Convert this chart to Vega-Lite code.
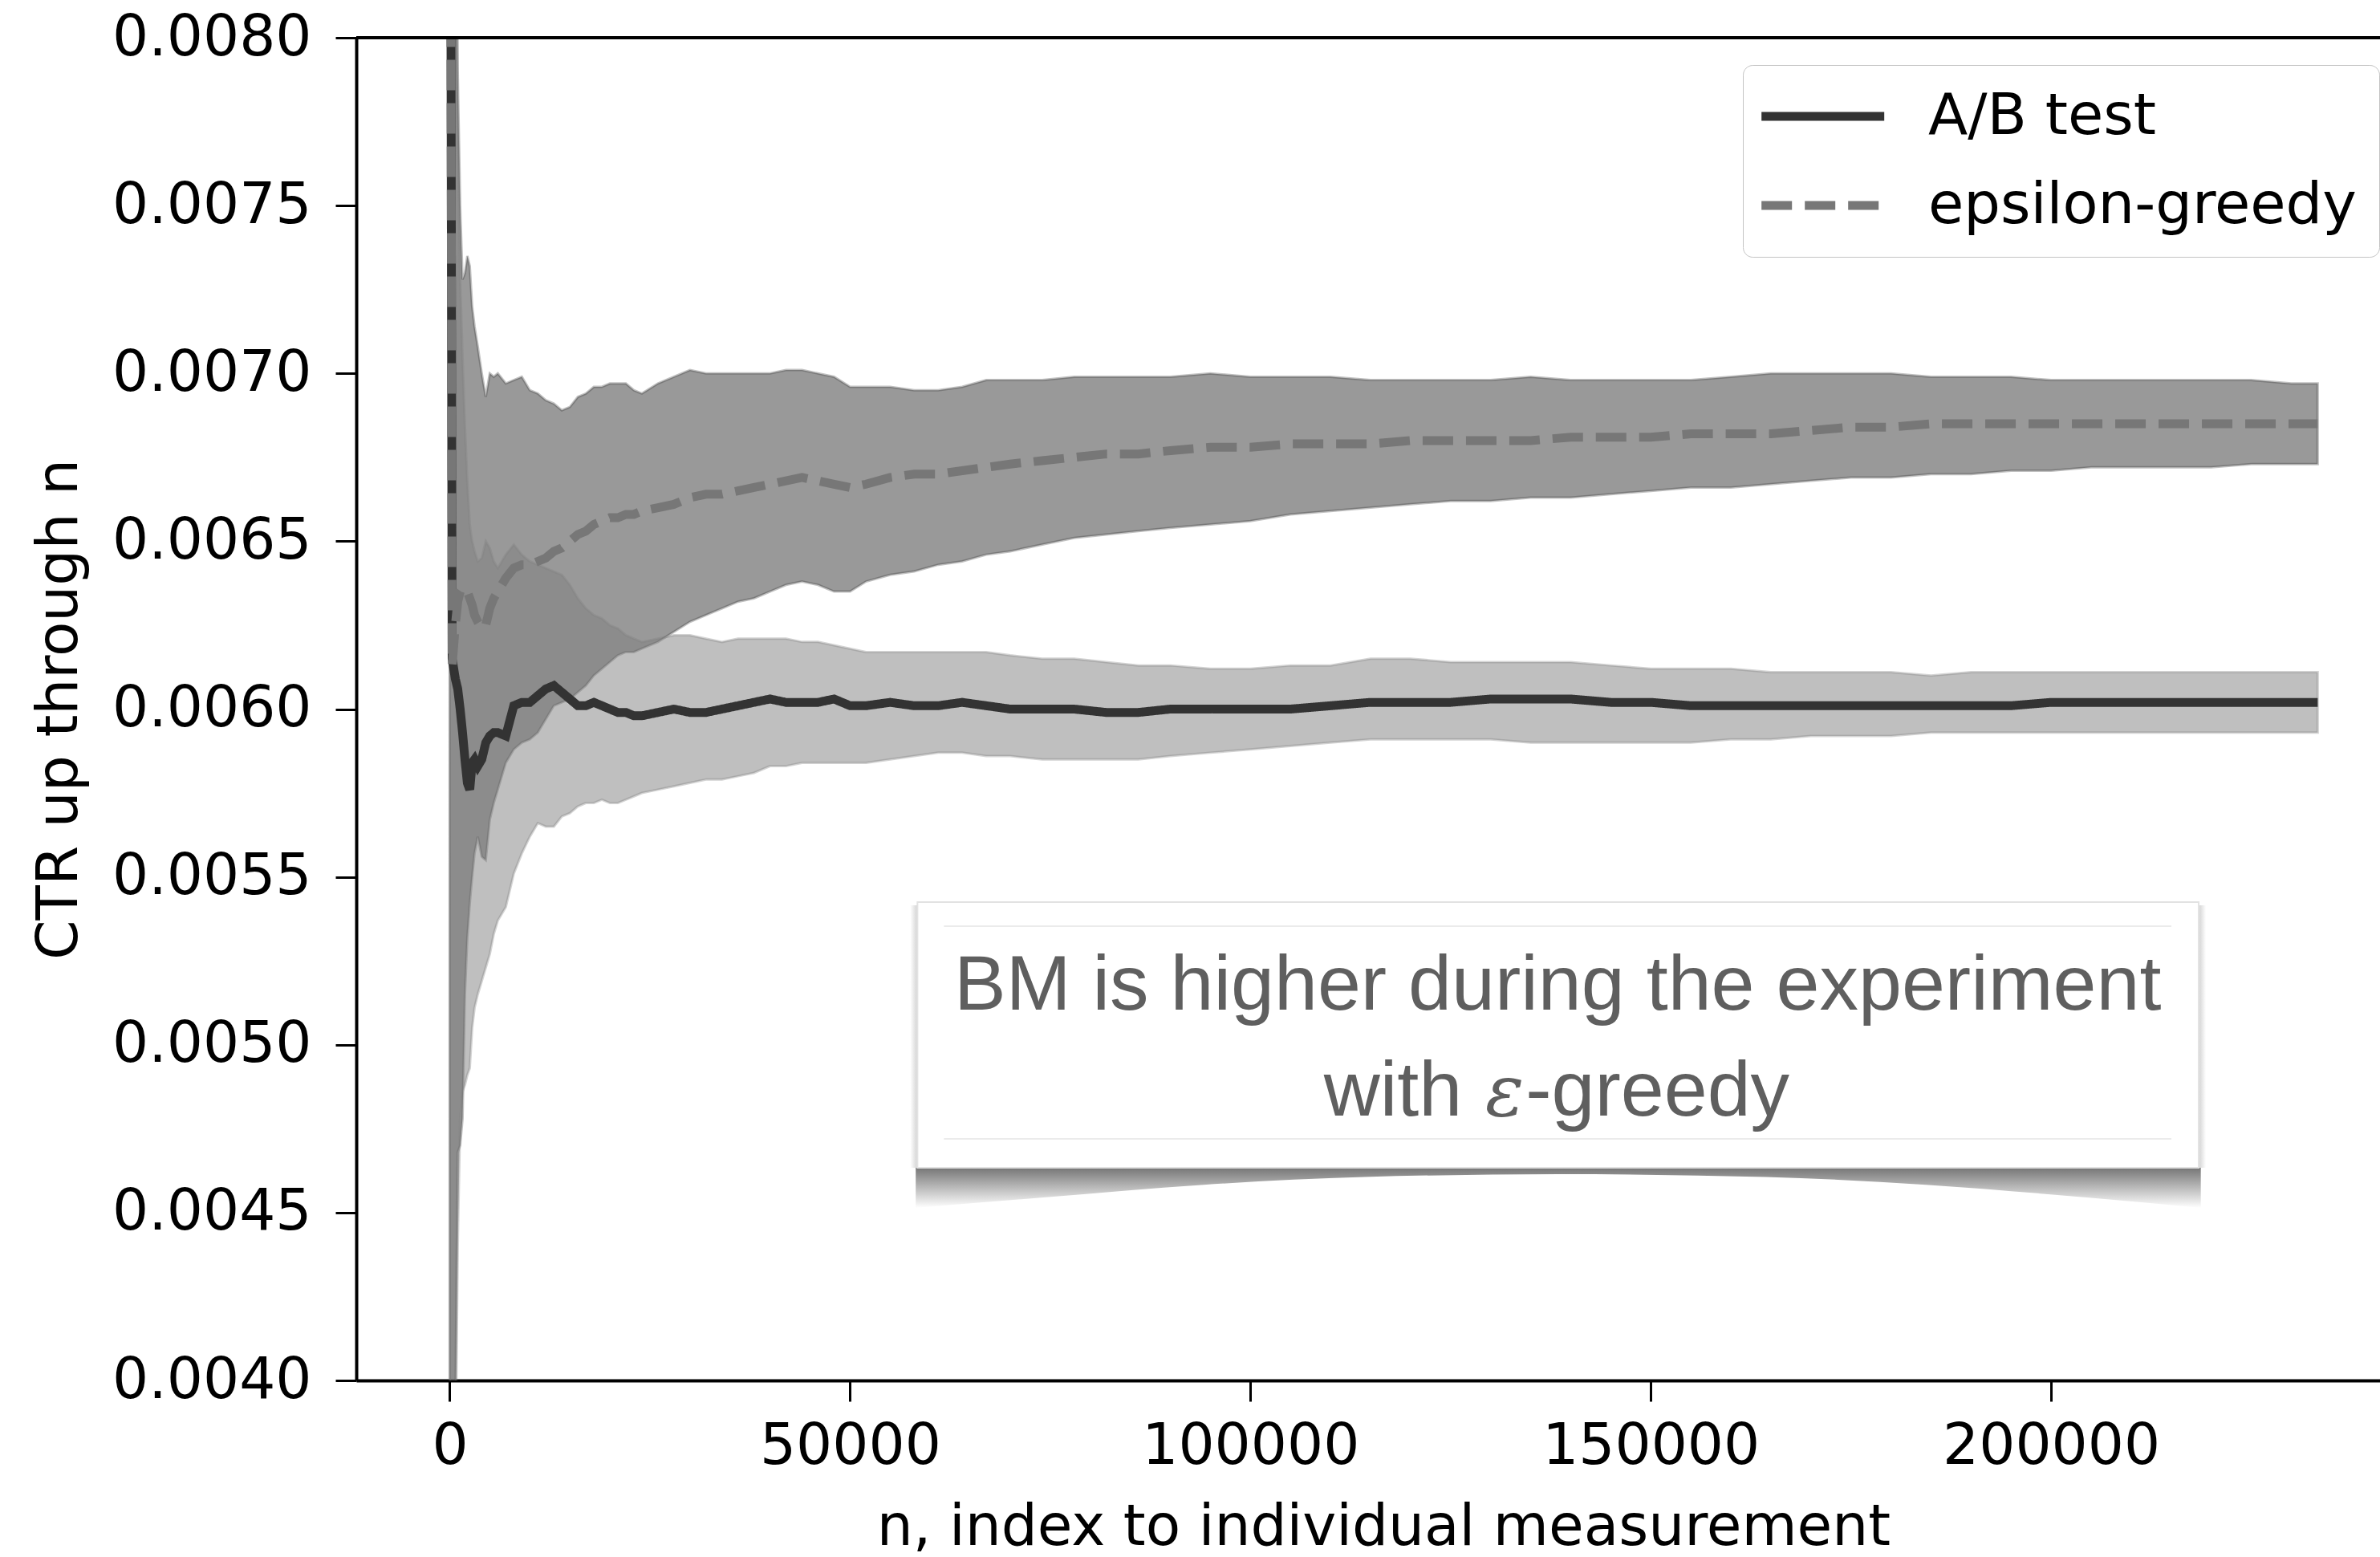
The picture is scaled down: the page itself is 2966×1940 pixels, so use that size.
{
"$schema": "https://vega.github.io/schema/vega-lite/v6.json",
"width": 2522, "height": 1673,
"autosize": {"type": "none"},
"padding": {"left": 444, "top": 47, "right": 0, "bottom": 220},
"background": "white",
"config": {
  "view": {"stroke": null},
  "axis": {"labelFont": "DejaVu Sans", "labelFontSize": 71, "labelColor": "black", "labelLimit": 0, "titleFont": "DejaVu Sans", "titleFontSize": 71, "titleColor": "black", "titleFontWeight": "normal", "titleLimit": 0, "domainColor": "black", "domainWidth": 4, "tickColor": "black", "tickWidth": 3, "tickSize": 26, "grid": false}
},
"datasets": {
"ctr": [
{"n":0,"eg_hi":0.0130,"eg_mean":0.0100,"eg_lo":0.0030,"ab_hi":0.0130,"ab_mean":0.0100,"ab_lo":0.0030},
{"n":300,"eg_hi":0.0110,"eg_mean":0.00613,"eg_lo":0.0034,"ab_hi":0.0105,"ab_mean":0.00615,"ab_lo":0.0033},
{"n":700,"eg_hi":0.0088,"eg_mean":0.00625,"eg_lo":0.0039,"ab_hi":0.0086,"ab_mean":0.00609,"ab_lo":0.0037},
{"n":1000,"eg_hi":0.0079,"eg_mean":0.00632,"eg_lo":0.00468,"ab_hi":0.0078,"ab_mean":0.00606,"ab_lo":0.0044},
{"n":1300,"eg_hi":0.0075,"eg_mean":0.00635,"eg_lo":0.00470,"ab_hi":0.00728,"ab_mean":0.00600,"ab_lo":0.00478},
{"n":1600,"eg_hi":0.00728,"eg_mean":0.00636,"eg_lo":0.00478,"ab_hi":0.00705,"ab_mean":0.00593,"ab_lo":0.00486},
{"n":1900,"eg_hi":0.00730,"eg_mean":0.00636,"eg_lo":0.00515,"ab_hi":0.00684,"ab_mean":0.00585,"ab_lo":0.00488},
{"n":2200,"eg_hi":0.00735,"eg_mean":0.00635,"eg_lo":0.00532,"ab_hi":0.00668,"ab_mean":0.00578,"ab_lo":0.00491},
{"n":2500,"eg_hi":0.00732,"eg_mean":0.00633,"eg_lo":0.00542,"ab_hi":0.00655,"ab_mean":0.00576,"ab_lo":0.00493},
{"n":2800,"eg_hi":0.00720,"eg_mean":0.00631,"eg_lo":0.00550,"ab_hi":0.00650,"ab_mean":0.00584,"ab_lo":0.00505},
{"n":3100,"eg_hi":0.00714,"eg_mean":0.00628,"eg_lo":0.00557,"ab_hi":0.00647,"ab_mean":0.00585,"ab_lo":0.00511},
{"n":3500,"eg_hi":0.00708,"eg_mean":0.00626,"eg_lo":0.00562,"ab_hi":0.00644,"ab_mean":0.00583,"ab_lo":0.00515},
{"n":4000,"eg_hi":0.00700,"eg_mean":0.00624,"eg_lo":0.00556,"ab_hi":0.00645,"ab_mean":0.00585,"ab_lo":0.00519},
{"n":4500,"eg_hi":0.00693,"eg_mean":0.00625,"eg_lo":0.00555,"ab_hi":0.00650,"ab_mean":0.00590,"ab_lo":0.00523},
{"n":5000,"eg_hi":0.00700,"eg_mean":0.00630,"eg_lo":0.00567,"ab_hi":0.00648,"ab_mean":0.00592,"ab_lo":0.00527},
{"n":5500,"eg_hi":0.00699,"eg_mean":0.00633,"eg_lo":0.00572,"ab_hi":0.00644,"ab_mean":0.00593,"ab_lo":0.00533},
{"n":6000,"eg_hi":0.00700,"eg_mean":0.00635,"eg_lo":0.00576,"ab_hi":0.00642,"ab_mean":0.00593,"ab_lo":0.00537},
{"n":7000,"eg_hi":0.00697,"eg_mean":0.00639,"eg_lo":0.00584,"ab_hi":0.00646,"ab_mean":0.00592,"ab_lo":0.00541},
{"n":8000,"eg_hi":0.00698,"eg_mean":0.00642,"eg_lo":0.00588,"ab_hi":0.00649,"ab_mean":0.00601,"ab_lo":0.00551},
{"n":9000,"eg_hi":0.00699,"eg_mean":0.00643,"eg_lo":0.00590,"ab_hi":0.00646,"ab_mean":0.00602,"ab_lo":0.00557},
{"n":10000,"eg_hi":0.00695,"eg_mean":0.00643,"eg_lo":0.00591,"ab_hi":0.00644,"ab_mean":0.00602,"ab_lo":0.00562},
{"n":11000,"eg_hi":0.00694,"eg_mean":0.00644,"eg_lo":0.00593,"ab_hi":0.00643,"ab_mean":0.00604,"ab_lo":0.00566},
{"n":12000,"eg_hi":0.00692,"eg_mean":0.00645,"eg_lo":0.00597,"ab_hi":0.00642,"ab_mean":0.00606,"ab_lo":0.00565},
{"n":13000,"eg_hi":0.00691,"eg_mean":0.00647,"eg_lo":0.00601,"ab_hi":0.00641,"ab_mean":0.00607,"ab_lo":0.00565},
{"n":14000,"eg_hi":0.00689,"eg_mean":0.00648,"eg_lo":0.00602,"ab_hi":0.00640,"ab_mean":0.00605,"ab_lo":0.00568},
{"n":15000,"eg_hi":0.00690,"eg_mean":0.00650,"eg_lo":0.00603,"ab_hi":0.00637,"ab_mean":0.00603,"ab_lo":0.00569},
{"n":16000,"eg_hi":0.00693,"eg_mean":0.00652,"eg_lo":0.00605,"ab_hi":0.00633,"ab_mean":0.00601,"ab_lo":0.00571},
{"n":17000,"eg_hi":0.00694,"eg_mean":0.00653,"eg_lo":0.00607,"ab_hi":0.00630,"ab_mean":0.00601,"ab_lo":0.00572},
{"n":18000,"eg_hi":0.00696,"eg_mean":0.00655,"eg_lo":0.00610,"ab_hi":0.00628,"ab_mean":0.00602,"ab_lo":0.00572},
{"n":19000,"eg_hi":0.00696,"eg_mean":0.00656,"eg_lo":0.00612,"ab_hi":0.00627,"ab_mean":0.00601,"ab_lo":0.00573},
{"n":20000,"eg_hi":0.00697,"eg_mean":0.00657,"eg_lo":0.00614,"ab_hi":0.00625,"ab_mean":0.00600,"ab_lo":0.00572},
{"n":21000,"eg_hi":0.00697,"eg_mean":0.00657,"eg_lo":0.00616,"ab_hi":0.00624,"ab_mean":0.00599,"ab_lo":0.00572},
{"n":22000,"eg_hi":0.00697,"eg_mean":0.00658,"eg_lo":0.00617,"ab_hi":0.00622,"ab_mean":0.00599,"ab_lo":0.00573},
{"n":23000,"eg_hi":0.00695,"eg_mean":0.00658,"eg_lo":0.00617,"ab_hi":0.00621,"ab_mean":0.00598,"ab_lo":0.00574},
{"n":24000,"eg_hi":0.00694,"eg_mean":0.00659,"eg_lo":0.00618,"ab_hi":0.00620,"ab_mean":0.00598,"ab_lo":0.00575},
{"n":26000,"eg_hi":0.00697,"eg_mean":0.00660,"eg_lo":0.00620,"ab_hi":0.00621,"ab_mean":0.00599,"ab_lo":0.00576},
{"n":28000,"eg_hi":0.00699,"eg_mean":0.00661,"eg_lo":0.00623,"ab_hi":0.00622,"ab_mean":0.00600,"ab_lo":0.00577},
{"n":30000,"eg_hi":0.00701,"eg_mean":0.00663,"eg_lo":0.00626,"ab_hi":0.00622,"ab_mean":0.00599,"ab_lo":0.00578},
{"n":32000,"eg_hi":0.00700,"eg_mean":0.00664,"eg_lo":0.00628,"ab_hi":0.00621,"ab_mean":0.00599,"ab_lo":0.00579},
{"n":34000,"eg_hi":0.00700,"eg_mean":0.00664,"eg_lo":0.00630,"ab_hi":0.00620,"ab_mean":0.00600,"ab_lo":0.00579},
{"n":36000,"eg_hi":0.00700,"eg_mean":0.00665,"eg_lo":0.00632,"ab_hi":0.00621,"ab_mean":0.00601,"ab_lo":0.00580},
{"n":38000,"eg_hi":0.00700,"eg_mean":0.00666,"eg_lo":0.00633,"ab_hi":0.00621,"ab_mean":0.00602,"ab_lo":0.00581},
{"n":40000,"eg_hi":0.00700,"eg_mean":0.00667,"eg_lo":0.00635,"ab_hi":0.00621,"ab_mean":0.00603,"ab_lo":0.00583},
{"n":42000,"eg_hi":0.00701,"eg_mean":0.00668,"eg_lo":0.00637,"ab_hi":0.00621,"ab_mean":0.00602,"ab_lo":0.00583},
{"n":44000,"eg_hi":0.00701,"eg_mean":0.00669,"eg_lo":0.00638,"ab_hi":0.00620,"ab_mean":0.00602,"ab_lo":0.00584},
{"n":46000,"eg_hi":0.00700,"eg_mean":0.00668,"eg_lo":0.00637,"ab_hi":0.00620,"ab_mean":0.00602,"ab_lo":0.00584},
{"n":48000,"eg_hi":0.00699,"eg_mean":0.00667,"eg_lo":0.00635,"ab_hi":0.00619,"ab_mean":0.00603,"ab_lo":0.00584},
{"n":50000,"eg_hi":0.00696,"eg_mean":0.00666,"eg_lo":0.00635,"ab_hi":0.00618,"ab_mean":0.00601,"ab_lo":0.00584},
{"n":52000,"eg_hi":0.00696,"eg_mean":0.00667,"eg_lo":0.00638,"ab_hi":0.00617,"ab_mean":0.00601,"ab_lo":0.00584},
{"n":55000,"eg_hi":0.00696,"eg_mean":0.00669,"eg_lo":0.00640,"ab_hi":0.00617,"ab_mean":0.00602,"ab_lo":0.00585},
{"n":58000,"eg_hi":0.00695,"eg_mean":0.00670,"eg_lo":0.00641,"ab_hi":0.00617,"ab_mean":0.00601,"ab_lo":0.00586},
{"n":61000,"eg_hi":0.00695,"eg_mean":0.00670,"eg_lo":0.00643,"ab_hi":0.00617,"ab_mean":0.00601,"ab_lo":0.00587},
{"n":64000,"eg_hi":0.00696,"eg_mean":0.00671,"eg_lo":0.00644,"ab_hi":0.00617,"ab_mean":0.00602,"ab_lo":0.00587},
{"n":67000,"eg_hi":0.00698,"eg_mean":0.00672,"eg_lo":0.00646,"ab_hi":0.00617,"ab_mean":0.00601,"ab_lo":0.00586},
{"n":70000,"eg_hi":0.00698,"eg_mean":0.00673,"eg_lo":0.00647,"ab_hi":0.00616,"ab_mean":0.00600,"ab_lo":0.00586},
{"n":74000,"eg_hi":0.00698,"eg_mean":0.00674,"eg_lo":0.00649,"ab_hi":0.00615,"ab_mean":0.00600,"ab_lo":0.00585},
{"n":78000,"eg_hi":0.00699,"eg_mean":0.00675,"eg_lo":0.00651,"ab_hi":0.00615,"ab_mean":0.00600,"ab_lo":0.00585},
{"n":82000,"eg_hi":0.00699,"eg_mean":0.00676,"eg_lo":0.00652,"ab_hi":0.00614,"ab_mean":0.00599,"ab_lo":0.00585},
{"n":86000,"eg_hi":0.00699,"eg_mean":0.00676,"eg_lo":0.00653,"ab_hi":0.00613,"ab_mean":0.00599,"ab_lo":0.00585},
{"n":90000,"eg_hi":0.00699,"eg_mean":0.00677,"eg_lo":0.00654,"ab_hi":0.00613,"ab_mean":0.00600,"ab_lo":0.00586},
{"n":95000,"eg_hi":0.00700,"eg_mean":0.00678,"eg_lo":0.00655,"ab_hi":0.00612,"ab_mean":0.00600,"ab_lo":0.00587},
{"n":100000,"eg_hi":0.00699,"eg_mean":0.00678,"eg_lo":0.00656,"ab_hi":0.00612,"ab_mean":0.00600,"ab_lo":0.00588},
{"n":105000,"eg_hi":0.00699,"eg_mean":0.00679,"eg_lo":0.00658,"ab_hi":0.00613,"ab_mean":0.00600,"ab_lo":0.00589},
{"n":110000,"eg_hi":0.00699,"eg_mean":0.00679,"eg_lo":0.00659,"ab_hi":0.00613,"ab_mean":0.00601,"ab_lo":0.00590},
{"n":115000,"eg_hi":0.00698,"eg_mean":0.00679,"eg_lo":0.00660,"ab_hi":0.00615,"ab_mean":0.00602,"ab_lo":0.00591},
{"n":120000,"eg_hi":0.00698,"eg_mean":0.00680,"eg_lo":0.00661,"ab_hi":0.00615,"ab_mean":0.00602,"ab_lo":0.00591},
{"n":125000,"eg_hi":0.00698,"eg_mean":0.00680,"eg_lo":0.00662,"ab_hi":0.00614,"ab_mean":0.00602,"ab_lo":0.00591},
{"n":130000,"eg_hi":0.00698,"eg_mean":0.00680,"eg_lo":0.00662,"ab_hi":0.00614,"ab_mean":0.00603,"ab_lo":0.00591},
{"n":135000,"eg_hi":0.00699,"eg_mean":0.00680,"eg_lo":0.00663,"ab_hi":0.00614,"ab_mean":0.00603,"ab_lo":0.00590},
{"n":140000,"eg_hi":0.00698,"eg_mean":0.00681,"eg_lo":0.00663,"ab_hi":0.00614,"ab_mean":0.00603,"ab_lo":0.00590},
{"n":145000,"eg_hi":0.00698,"eg_mean":0.00681,"eg_lo":0.00664,"ab_hi":0.00613,"ab_mean":0.00602,"ab_lo":0.00590},
{"n":150000,"eg_hi":0.00698,"eg_mean":0.00681,"eg_lo":0.00665,"ab_hi":0.00612,"ab_mean":0.00602,"ab_lo":0.00590},
{"n":155000,"eg_hi":0.00698,"eg_mean":0.00682,"eg_lo":0.00666,"ab_hi":0.00612,"ab_mean":0.00601,"ab_lo":0.00590},
{"n":160000,"eg_hi":0.00699,"eg_mean":0.00682,"eg_lo":0.00666,"ab_hi":0.00612,"ab_mean":0.00601,"ab_lo":0.00591},
{"n":165000,"eg_hi":0.00700,"eg_mean":0.00682,"eg_lo":0.00667,"ab_hi":0.00611,"ab_mean":0.00601,"ab_lo":0.00591},
{"n":170000,"eg_hi":0.00700,"eg_mean":0.00683,"eg_lo":0.00668,"ab_hi":0.00611,"ab_mean":0.00601,"ab_lo":0.00592},
{"n":175000,"eg_hi":0.00700,"eg_mean":0.00684,"eg_lo":0.00669,"ab_hi":0.00611,"ab_mean":0.00601,"ab_lo":0.00592},
{"n":180000,"eg_hi":0.00700,"eg_mean":0.00684,"eg_lo":0.00669,"ab_hi":0.00611,"ab_mean":0.00601,"ab_lo":0.00592},
{"n":185000,"eg_hi":0.00699,"eg_mean":0.00685,"eg_lo":0.00670,"ab_hi":0.00610,"ab_mean":0.00601,"ab_lo":0.00593},
{"n":190000,"eg_hi":0.00699,"eg_mean":0.00685,"eg_lo":0.00670,"ab_hi":0.00611,"ab_mean":0.00601,"ab_lo":0.00593},
{"n":195000,"eg_hi":0.00699,"eg_mean":0.00685,"eg_lo":0.00671,"ab_hi":0.00611,"ab_mean":0.00601,"ab_lo":0.00593},
{"n":200000,"eg_hi":0.00698,"eg_mean":0.00685,"eg_lo":0.00671,"ab_hi":0.00611,"ab_mean":0.00602,"ab_lo":0.00593},
{"n":205000,"eg_hi":0.00698,"eg_mean":0.00685,"eg_lo":0.00672,"ab_hi":0.00611,"ab_mean":0.00602,"ab_lo":0.00593},
{"n":210000,"eg_hi":0.00698,"eg_mean":0.00685,"eg_lo":0.00672,"ab_hi":0.00611,"ab_mean":0.00602,"ab_lo":0.00593},
{"n":215000,"eg_hi":0.00698,"eg_mean":0.00685,"eg_lo":0.00672,"ab_hi":0.00611,"ab_mean":0.00602,"ab_lo":0.00593},
{"n":220000,"eg_hi":0.00698,"eg_mean":0.00685,"eg_lo":0.00672,"ab_hi":0.00611,"ab_mean":0.00602,"ab_lo":0.00593},
{"n":225000,"eg_hi":0.00698,"eg_mean":0.00685,"eg_lo":0.00673,"ab_hi":0.00611,"ab_mean":0.00602,"ab_lo":0.00593},
{"n":230000,"eg_hi":0.00697,"eg_mean":0.00685,"eg_lo":0.00673,"ab_hi":0.00611,"ab_mean":0.00602,"ab_lo":0.00593},
{"n":233300,"eg_hi":0.00697,"eg_mean":0.00685,"eg_lo":0.00673,"ab_hi":0.00611,"ab_mean":0.00602,"ab_lo":0.00593}
],
"shadow": [
{"sx":58200,"sy":0.0045140},
{"sx":74148,"sy":0.0045450},
{"sx":94188,"sy":0.0045830},
{"sx":114228,"sy":0.0046060},
{"sx":138376,"sy":0.0046144},
{"sx":164328,"sy":0.0046060},
{"sx":184368,"sy":0.0045830},
{"sx":204408,"sy":0.0045450},
{"sx":218700,"sy":0.0045140}
],
"one": [{"k": 1}]
},
"layer": [
{
  "data": {"name": "ctr"},
  "mark": {"type": "area", "clip": true, "fill": "#333333", "fillOpacity": 0.5, "stroke": "#333333", "strokeOpacity": 0.3, "strokeWidth": 3},
  "encoding": {
    "x": {"field": "n", "type": "quantitative", "title": "n, index to individual measurement",
          "scale": {"domain": [-11673, 241081], "nice": false, "zero": false},
          "axis": {"values": [0, 50000, 100000, 150000, 200000], "format": "d", "labelFlush": false, "labelOverlap": false, "labelPadding": 21, "titleX": 1280, "titleY": 204, "titleBaseline": "alphabetic"}},
    "y": {"field": "eg_lo", "type": "quantitative", "title": "CTR up through n",
          "scale": {"domain": [0.004, 0.008], "nice": false, "zero": false},
          "axis": {"values": [0.004, 0.0045, 0.005, 0.0055, 0.006, 0.0065, 0.007, 0.0075, 0.008], "format": ".4f", "labelPadding": 30, "labelOverlap": false, "titleX": -349, "titleY": 836.5, "titleAngle": 270, "titleBaseline": "alphabetic"}},
    "y2": {"field": "eg_hi"}
  }
},
{
  "data": {"name": "ctr"},
  "mark": {"type": "area", "clip": true, "fill": "#808080", "fillOpacity": 0.5, "stroke": "#808080", "strokeOpacity": 0.35, "strokeWidth": 3},
  "encoding": {
    "x": {"field": "n", "type": "quantitative"},
    "y": {"field": "ab_lo", "type": "quantitative"},
    "y2": {"field": "ab_hi"}
  }
},
{
  "data": {"name": "ctr"},
  "transform": [{"fold": ["ab_mean", "eg_mean"], "as": ["series", "ctr"]}],
  "mark": {"type": "line", "clip": true, "strokeWidth": 11, "strokeCap": "butt"},
  "encoding": {
    "x": {"field": "n", "type": "quantitative"},
    "y": {"field": "ctr", "type": "quantitative"},
    "color": {"field": "series", "type": "nominal",
      "scale": {"domain": ["ab_mean", "eg_mean"], "range": ["#333333", "#777777"]},
      "legend": {"title": null, "orient": "none", "legendX": 1728, "legendY": 34, "direction": "vertical", "fillColor": "white", "strokeColor": "#c4c4c4", "cornerRadius": 12, "padding": 28, "symbolType": "M-1.6,0H4.4", "symbolSize": 2601, "symbolStrokeWidth": 11, "labelFont": "DejaVu Sans", "labelFontSize": 72, "labelColor": "black", "labelOffset": 131, "rowPadding": 39, "labelLimit": 0, "labelExpr": "datum.value == 'ab_mean' ? 'A/B test' : 'epsilon-greedy'"}},
    "strokeDash": {"field": "series", "type": "nominal",
      "scale": {"domain": ["ab_mean", "eg_mean"], "range": [[1, 0], [38, 16]]},
      "legend": {"title": null, "orient": "none", "legendX": 1728, "legendY": 34, "direction": "vertical", "fillColor": "white", "strokeColor": "#c4c4c4", "cornerRadius": 12, "padding": 28, "symbolType": "M-1.6,0H4.4", "symbolSize": 2601, "symbolStrokeWidth": 11, "labelFont": "DejaVu Sans", "labelFontSize": 72, "labelColor": "black", "labelOffset": 131, "rowPadding": 39, "labelLimit": 0, "labelExpr": "datum.value == 'ab_mean' ? 'A/B test' : 'epsilon-greedy'"}}
  }
},
{
  "data": {"name": "one"},
  "mark": {"type": "rule", "color": "black", "strokeWidth": 4},
  "encoding": {"y": {"datum": 0.008, "type": "quantitative"}}
},
{
  "data": {"name": "shadow"},
  "mark": {"type": "area", "interpolate": "monotone",
    "fill": {"gradient": "linear", "x1": 0, "y1": 0, "x2": 0, "y2": 1, "stops": [{"offset": 0, "color": "#767676"}, {"offset": 0.45, "color": "#b4b4b4"}, {"offset": 1, "color": "#ffffff"}]}},
  "encoding": {
    "x": {"field": "sx", "type": "quantitative"},
    "y": {"field": "sy", "type": "quantitative"},
    "y2": {"datum": 0.0046334}
  }
},
{
  "data": {"name": "one"},
  "mark": {"type": "rect",
    "fill": {"gradient": "linear", "x1": 0, "y1": 0, "x2": 1, "y2": 0, "stops": [{"offset": 0, "color": "#ffffff"}, {"offset": 0.006, "color": "#cfcfcf"}, {"offset": 0.994, "color": "#cfcfcf"}, {"offset": 1, "color": "#ffffff"}]}},
  "encoding": {
    "x": {"datum": 57515, "type": "quantitative"},
    "x2": {"datum": 219338},
    "y": {"datum": 0.0054153, "type": "quantitative"},
    "y2": {"datum": 0.0046334}
  }
},
{
  "data": {"name": "one"},
  "mark": {"type": "rect", "fill": "white", "stroke": "#e2e2e2", "strokeWidth": 2},
  "encoding": {
    "x": {"datum": 58417, "type": "quantitative"},
    "x2": {"datum": 218436},
    "y": {"datum": 0.005425, "type": "quantitative"},
    "y2": {"datum": 0.0046334}
  }
},
{
  "data": {"name": "one"},
  "mark": {"type": "rule", "color": "#ebebeb", "strokeWidth": 2},
  "encoding": {
    "x": {"datum": 61723, "type": "quantitative"},
    "x2": {"datum": 215029},
    "y": {"datum": 0.0053532, "type": "quantitative"}
  }
},
{
  "data": {"name": "one"},
  "mark": {"type": "rule", "color": "#ebebeb", "strokeWidth": 2},
  "encoding": {
    "x": {"datum": 61723, "type": "quantitative"},
    "x2": {"datum": 215029},
    "y": {"datum": 0.0047195, "type": "quantitative"}
  }
},
{
  "data": {"name": "one"},
  "mark": {"type": "text", "text": "BM is higher during the experiment", "font": "Liberation Sans", "fontSize": 97, "color": "#5f5f5f", "align": "center", "baseline": "alphabetic"},
  "encoding": {
    "x": {"datum": 138376, "type": "quantitative"},
    "y": {"datum": 0.0051045, "type": "quantitative"}
  }
},
{
  "data": {"name": "one"},
  "mark": {"type": "text", "text": "with", "font": "Liberation Sans", "fontSize": 97, "color": "#5f5f5f", "align": "right", "baseline": "alphabetic"},
  "encoding": {
    "x": {"datum": 126452, "type": "quantitative"},
    "y": {"datum": 0.0047889, "type": "quantitative"}
  }
},
{
  "data": {"name": "one"},
  "mark": {"type": "text", "text": "ε", "font": "DejaVu Serif", "fontStyle": "italic", "fontSize": 90, "color": "#5f5f5f", "align": "center", "baseline": "alphabetic"},
  "encoding": {
    "x": {"datum": 131763, "type": "quantitative"},
    "y": {"datum": 0.0047889, "type": "quantitative"}
  }
},
{
  "data": {"name": "one"},
  "mark": {"type": "text", "text": "-greedy", "font": "Liberation Sans", "fontSize": 97, "color": "#5f5f5f", "align": "left", "baseline": "alphabetic"},
  "encoding": {
    "x": {"datum": 134368, "type": "quantitative"},
    "y": {"datum": 0.0047889, "type": "quantitative"}
  }
}
]
}
